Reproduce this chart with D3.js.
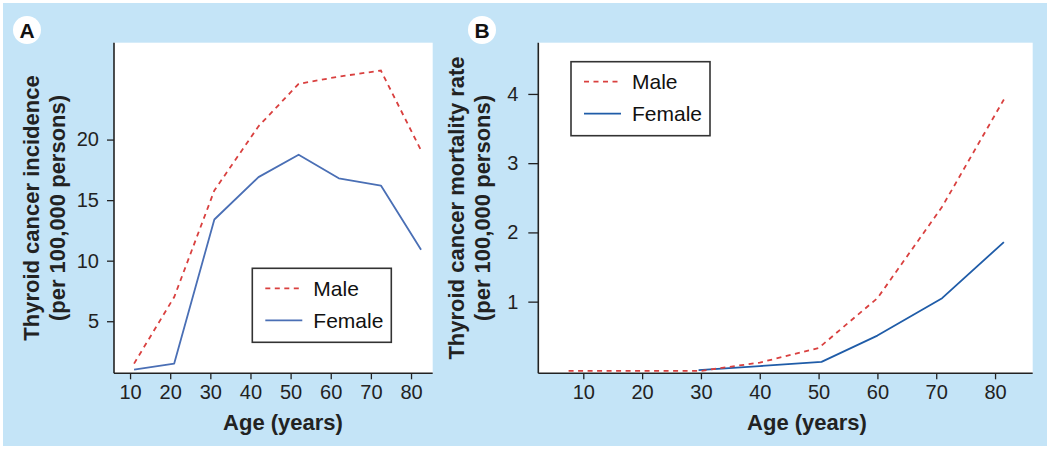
<!DOCTYPE html>
<html><head><meta charset="utf-8">
<script src="https://cdn.jsdelivr.net/npm/d3@7"></script>
<style>
html,body{margin:0;padding:0;background:#fff;}
svg{display:block;font-family:"Liberation Sans",Arial,Helvetica,sans-serif;}
</style></head>
<body>
<svg id="chart" width="1050" height="449"></svg>
<script>
// ---- Panel A: incidence ----
const agesA = [11, 21, 31, 42, 52, 62, 72.5, 82.5];
const maleA = [1.5, 7.0, 15.8, 21.1, 24.6, 25.2, 25.7, 19.1];
const femaleA = [1.0, 1.5, 13.4, 16.9, 18.75, 16.8, 16.2, 10.9];
const yTicksA = [5, 10, 15, 20];
// ---- Panel B: mortality ----
const agesMaleB = [7.5, 20, 30, 40, 50, 60, 71, 81.5];
const maleB = [0, 0, 0, 0.12, 0.33, 1.05, 2.37, 3.92];
const agesFemaleB = [29.6, 40, 50.5, 60, 71, 81.5];
const femaleB = [0.01, 0.07, 0.13, 0.51, 1.05, 1.86];
const yTicksB = [1, 2, 3, 4];
const xTicks = [10, 20, 30, 40, 50, 60, 70, 80];
const seriesNames = ["Male", "Female"];

const svg = d3.select("#chart");
const BG = "#c4e4f7", RED = "#d9403f", AXIS = "#222";

svg.append("rect").attr("x", 3).attr("y", 3).attr("width", 1044).attr("height", 443).attr("fill", BG);

function panel(cfg) {
  const g = svg.append("g");
  const x = d3.scaleLinear().domain(cfg.xDomain).range([cfg.left, cfg.right]);
  const y = d3.scaleLinear().domain(cfg.yDomain).range([cfg.bottom, cfg.top]);
  g.append("rect").attr("x", cfg.left).attr("y", cfg.top)
    .attr("width", cfg.right - cfg.left).attr("height", cfg.bottom - cfg.top).attr("fill", "#fff");

  const xAxis = g.append("g").attr("transform", `translate(0,${cfg.bottom})`)
    .call(d3.axisBottom(x).tickValues(xTicks).tickFormat(d3.format("d"))
      .tickSize(6).tickPadding(6).tickSizeOuter(0));
  const yAxis = g.append("g").attr("transform", `translate(${cfg.left},0)`)
    .call(d3.axisLeft(y).tickValues(cfg.yTicks).tickFormat(d3.format("d"))
      .tickSize(cfg.yTickLen).tickPadding(cfg.yPad).tickSizeOuter(0));
  [xAxis, yAxis].forEach(a => {
    a.attr("font-size", null).attr("font-family", null);
    a.select(".domain").attr("stroke", AXIS).attr("stroke-width", 1.6);
    a.selectAll(".tick line").attr("stroke", AXIS).attr("stroke-width", 1.3);
    a.selectAll(".tick text").attr("fill", "#222").style("font-size", "20px");
  });
  xAxis.select(".domain").attr("d", `M${cfg.left},0H${cfg.right}`);
  yAxis.select(".domain").attr("d", `M0,${cfg.bottom}V${cfg.top}`);

  const line = d3.line().x(d => x(d[0])).y(d => y(d[1]));
  g.append("path").datum(cfg.femaleAges.map((a, i) => [a, cfg.female[i]]))
    .attr("d", line).attr("fill", "none").attr("stroke", cfg.blue).attr("stroke-width", 1.8)
    .attr("stroke-linejoin", "round");
  g.append("path").datum(cfg.maleAges.map((a, i) => [a, cfg.male[i]]))
    .attr("d", line).attr("fill", "none").attr("stroke", RED).attr("stroke-width", 1.8)
    .attr("stroke-dasharray", "5,4.5");

  // axis titles
  g.append("text").attr("x", cfg.xTitleX).attr("y", 430).attr("text-anchor", "middle")
    .style("font-size", "22px").style("font-weight", "bold").attr("fill", "#222").text("Age (years)");
  const cy = (cfg.top + cfg.bottom) / 2;
  g.append("text").attr("transform", `translate(${cfg.yTitleX1},${cy}) rotate(-90)`)
    .attr("text-anchor", "middle").style("font-size", "22px").style("font-weight", "bold")
    .attr("fill", "#222").text(cfg.yTitle1);
  g.append("text").attr("transform", `translate(${cfg.yTitleX2},${cy}) rotate(-90)`)
    .attr("text-anchor", "middle").style("font-size", "22px").style("font-weight", "bold")
    .attr("fill", "#222").text("(per 100,000 persons)");

  // legend
  const lg = g.append("g").attr("transform", `translate(${cfg.legX},${cfg.legY})`);
  lg.append("rect").attr("width", 139).attr("height", 74).attr("fill", "#fff")
    .attr("stroke", "#333").attr("stroke-width", 1.6);
  seriesNames.forEach((name, i) => {
    const ly = 20 + i * 32;
    lg.append("line").attr("x1", 13).attr("x2", 50).attr("y1", ly).attr("y2", ly)
      .attr("stroke", i === 0 ? RED : cfg.blue).attr("stroke-width", 1.8)
      .attr("stroke-dasharray", i === 0 ? "5,4.5" : null);
    lg.append("text").attr("x", 61).attr("y", ly + 7.5).style("font-size", "21px")
      .attr("fill", "#111").text(name);
  });

  // panel label
  svg.append("circle").attr("cx", cfg.labX).attr("cy", 30).attr("r", 14).attr("fill", "#fff");
  svg.append("text").attr("x", cfg.labX).attr("y", 37.5).attr("text-anchor", "middle")
    .style("font-size", "21px").style("font-weight", "bold").attr("fill", "#111").text(cfg.label);
}

panel({
  left: 114, right: 432.7, top: 42.7, bottom: 373.3,
  xDomain: [6, 85.4], yDomain: [0.7, 28], yTicks: yTicksA, yTickLen: 7, yPad: 8,
  maleAges: agesA, male: maleA, femaleAges: agesA, female: femaleA, blue: "#4a6fb5",
  xTitleX: 283, yTitleX1: 38.5, yTitleX2: 64.5,
  yTitle1: "Thyroid cancer incidence", legX: 252.3, legY: 268.3, labX: 27, label: "A"
});
panel({
  left: 538.3, right: 1032.7, top: 42.7, bottom: 373.3,
  xDomain: [2.35, 86.4], yDomain: [-0.035, 4.74], yTicks: yTicksB, yTickLen: 10, yPad: 10,
  maleAges: agesMaleB, male: maleB, femaleAges: agesFemaleB, female: femaleB, blue: "#1f5ca8",
  xTitleX: 807, yTitleX1: 464, yTitleX2: 490,
  yTitle1: "Thyroid cancer mortality rate", legX: 571, legY: 61.7, labX: 482, label: "B"
});
</script>
</body></html>
